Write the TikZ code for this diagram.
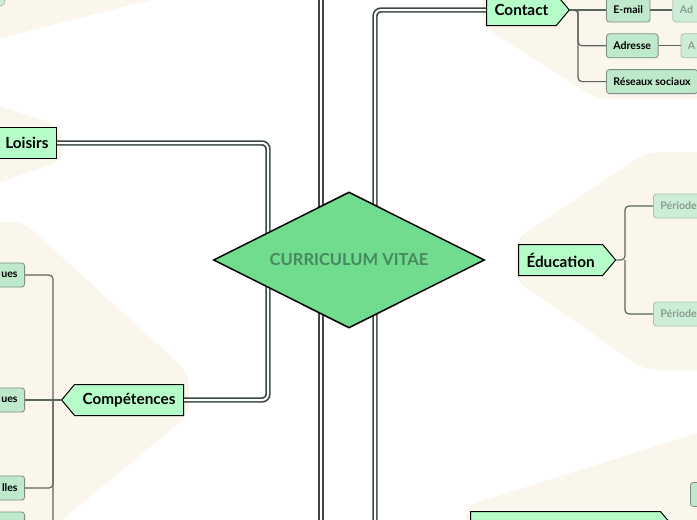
\documentclass[tikz,border=0pt]{standalone}
\usepackage{fontspec}
\setmainfont{Lato}
\usepackage{tikz}
\usetikzlibrary{shapes.geometric,shapes.symbols,positioning,calc}
\definecolor{cvgreen}{RGB}{113,219,142}
\definecolor{cvtext}{RGB}{70,136,96}
\definecolor{topicgreen}{RGB}{182,252,200}
\definecolor{leafgreen}{RGB}{190,234,203}
\definecolor{leafline}{RGB}{125,140,130}
\definecolor{fadegreen}{RGB}{204,237,214}
\definecolor{fadeline}{RGB}{172,194,180}
\definecolor{fadetext}{RGB}{140,156,146}
\definecolor{trunkgray}{RGB}{58,72,64}
\definecolor{branchgray}{RGB}{90,102,93}
\definecolor{cream}{RGB}{250,246,236}

\begin{document}
\begin{tikzpicture}[
    x=1pt, y=-1pt,
    node distance=22pt,
    cv/.style={diamond, aspect=2, draw=black, line width=1.5pt, fill=cvgreen, minimum width=271pt, minimum height=136pt, inner sep=0pt, text=cvtext, font=\bfseries\fontsize{16.5}{19}\selectfont},
    topic/.style={signal, signal pointer angle=100, draw=black, line width=1pt, fill=topicgreen, minimum height=31pt, inner xsep=8pt, font=\bfseries\fontsize{15.3}{18}\selectfont},
    leaf/.style={draw=leafline, fill=leafgreen, line width=0.8pt, rounded corners=3pt, minimum height=24pt, inner xsep=7pt, font=\bfseries\fontsize{10.6}{12}\selectfont},
    faded/.style={leaf, draw=fadeline, fill=fadegreen, text=fadetext},
    cutleaf/.style={leaf, anchor=east, text width=44pt, align=right},
    trunk/.style={draw=trunkgray, double=white, line width=1.7pt, double distance=2pt, rounded corners=6pt},
    branch/.style={draw=branchgray, line width=1.2pt, rounded corners=4pt}
]
    \useasboundingbox (0,0) rectangle (697,520);
    \clip (0,0) rectangle (697,520);

    \fill[cream] (-10,-10) -- (189,-10) -- (-10,41) -- cycle;
    \fill[cream, rounded corners=8pt] (-10,103) -- (55,124) -- (63,134) -- (63,156) -- (55,163) -- (-10,186) -- cycle;
    \fill[cream, rounded corners=12pt] (-10,222) -- (24,222) -- (188,372) -- (190,414) -- (50,530) -- (-10,530) -- cycle;
    \fill[cream, rounded corners=10pt] (482,-10) -- (482,26) -- (597,99) -- (710,99) -- (710,-10) -- cycle;
    \fill[cream, rounded corners=12pt] (647,152) -- (710,152) -- (710,370) -- (645,370) -- (515,280) -- (515,240) -- cycle;
    \fill[cream, rounded corners=10pt] (466,530) -- (466,506) -- (710,429) -- (710,530) -- cycle;

    \node[topic, signal to=nowhere, anchor=east] (loisirs) at (57,143) {Loisirs};
    \node[topic, signal to=west, anchor=east] (comp) at (184,400) {Compétences};
    \node[topic, anchor=west] (contact) at (486,10) {Contact};
    \node[topic, anchor=west] (educ) at (518,260) {Éducation};
    \node[topic, anchor=west, minimum width=203pt] (proj) at (470,527) {};

    \coordinate (kl) at (268,270);
    \coordinate (top) at (321,-10);
    \coordinate (bot) at (321,530);
    \coordinate (kc) at (375,530);
    \draw[trunk] (loisirs.east) -| (kl) |- (comp.east);
    \draw[trunk] (top) -- (bot);
    \draw[trunk] (contact.west) -| (kc);

    \node[cv] (cv) at (349,260) {CURRICULUM VITAE};

    \node[leaf, anchor=west] (email) at (606,10) {E-mail};
    \node[leaf, below=11pt of email.south west, anchor=north west] (adresse) {Adresse};
    \node[leaf, below=11pt of adresse.south west, anchor=north west] (reseaux) {Réseaux sociaux};
    \node[faded, right=of email] (email2) {Ad};
    \node[faded, right=of adresse] (adresse2) {A};

    \node[faded, anchor=west] (per1) at (653,206) {Période};
    \node[faded, anchor=west] (per2) at (653,314) {Période};

    \node[cutleaf] (k1) at (25,275) {ues};
    \node[cutleaf] (k2) at (25,400) {ues};
    \node[cutleaf] (k3) at (25,488) {lles};
    \node[cutleaf] (k4) at (25,524) {};

    \node[faded, anchor=south east, minimum width=50pt] (tl) at (5,6) {};
    \node[leaf, anchor=north west, minimum width=40pt] (br) at (690,482) {};

    \coordinate (jc) at (578,10);
    \draw[branch] (contact.east) -- (email.west);
    \draw[branch] (contact.east) -- (jc) |- (adresse.west);
    \draw[branch] (jc) |- (reseaux.west);
    \draw[branch] (email.east) -- (email2.west);
    \draw[branch] (adresse.east) -- (adresse2.west);

    \coordinate (je) at (625,260);
    \draw[branch] (educ.east) -- (je) |- (per1.west);
    \draw[branch] (je) |- (per2.west);

    \coordinate (jk) at (53,400);
    \draw[branch] (comp.west) -- (k2.east);
    \draw[branch] (jk) |- (k1.east);
    \draw[branch] (jk) |- (k3.east);
    \draw[branch] (jk) |- (k4.east);
\end{tikzpicture}
\end{document}
